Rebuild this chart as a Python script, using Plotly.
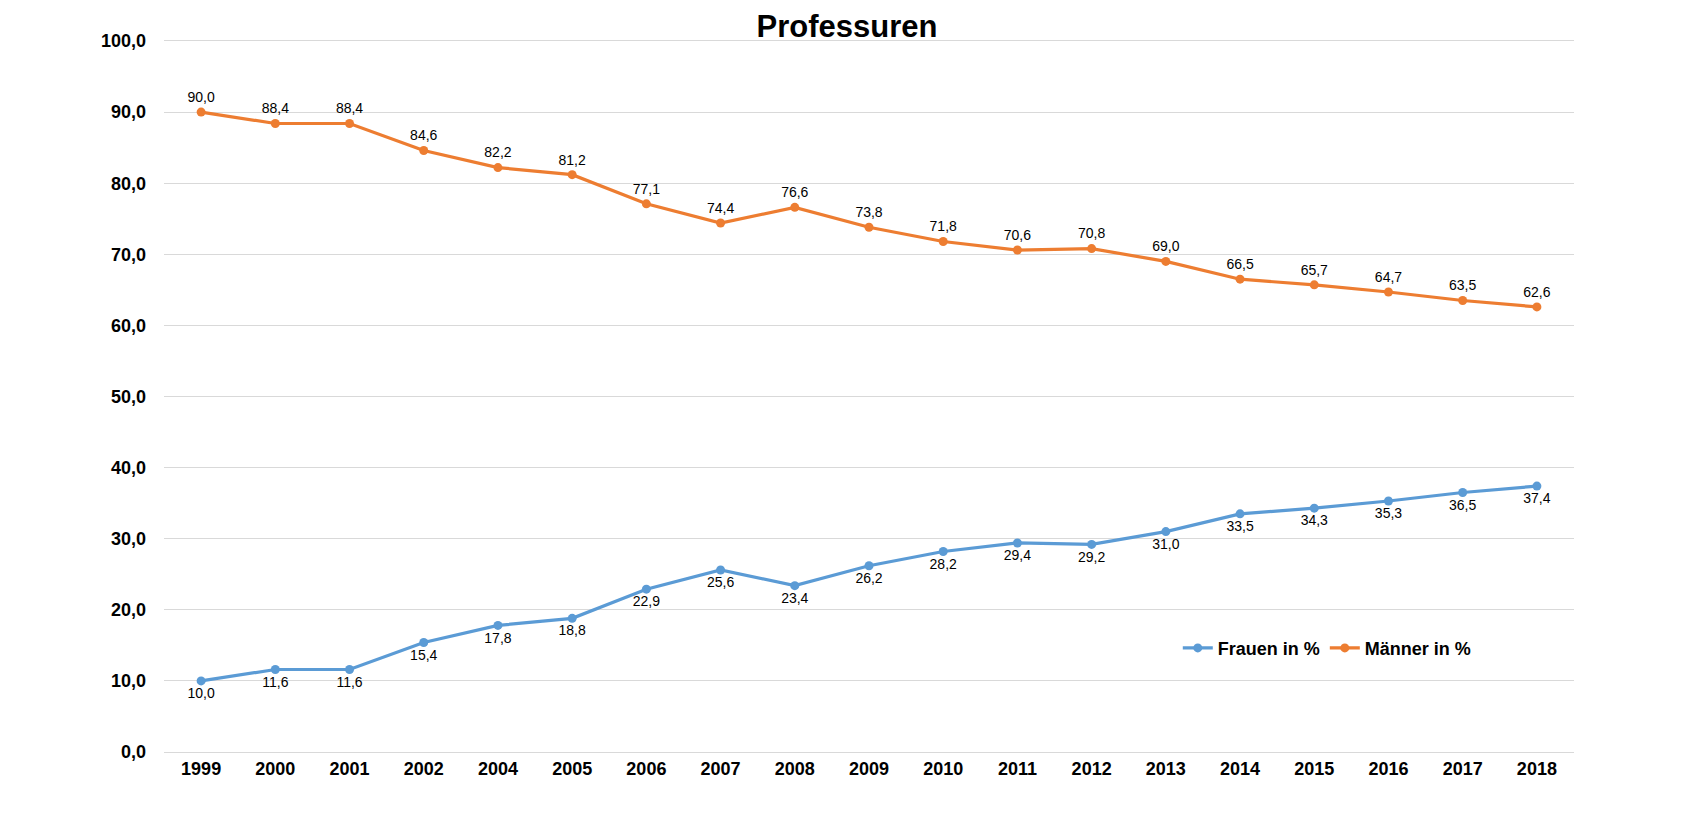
import plotly.graph_objects as go

years = ["1999", "2000", "2001", "2002", "2004", "2005", "2006", "2007", "2008", "2009",
         "2010", "2011", "2012", "2013", "2014", "2015", "2016", "2017", "2018"]
frauen = [10.0, 11.6, 11.6, 15.4, 17.8, 18.8, 22.9, 25.6, 23.4, 26.2,
          28.2, 29.4, 29.2, 31.0, 33.5, 34.3, 35.3, 36.5, 37.4]
maenner = [90.0, 88.4, 88.4, 84.6, 82.2, 81.2, 77.1, 74.4, 76.6, 73.8,
           71.8, 70.6, 70.8, 69.0, 66.5, 65.7, 64.7, 63.5, 62.6]
y_ticks = [0, 10, 20, 30, 40, 50, 60, 70, 80, 90, 100]

FONT = "Liberation Sans, Arial, sans-serif"
BLUE = "#5B9BD5"
ORANGE = "#ED7D31"
GRID = "#D9D9D9"

fig = go.Figure()
fig.add_trace(go.Scatter(
    x=years, y=frauen, name="Frauen in %", mode="lines+markers+text",
    line=dict(color=BLUE, width=3.2), marker=dict(color=BLUE, size=9),
    texttemplate="%{y:.1f}", textposition="bottom center",
    textfont=dict(family=FONT, size=14, color="#000000"),
    cliponaxis=False,
))
fig.add_trace(go.Scatter(
    x=years, y=maenner, name="Männer in %", mode="lines+markers+text",
    line=dict(color=ORANGE, width=3.2), marker=dict(color=ORANGE, size=9),
    texttemplate="%{y:.1f}", textposition="top center",
    textfont=dict(family=FONT, size=14, color="#000000"),
    cliponaxis=False,
))

fig.update_layout(
    width=1683, height=814,
    paper_bgcolor="white", plot_bgcolor="white",
    separators=",.",
    margin=dict(l=156, r=117, t=33, b=70),
    font=dict(family=FONT, color="#000000"),
    title=dict(text="<b>Professuren</b>", x=839 / 1683, xanchor="center",
               y=1 - 18 / 814, yanchor="middle",
               font=dict(family=FONT, size=31, color="#000000")),
    showlegend=True,
    legend=dict(orientation="h", x=0.719, xanchor="left", y=0.146, yanchor="middle",
                font=dict(family=FONT, size=18, color="#000000", weight="bold"),
                bgcolor="rgba(0,0,0,0)", itemwidth=30, tracegroupgap=0),
)
fig.update_xaxes(
    type="category", range=[-0.5, len(years) - 0.5],
    showgrid=False, zeroline=False, ticks="",
    showline=True, mirror=True, linecolor=GRID, linewidth=1,
    tickfont=dict(family=FONT, size=18, color="#000000", weight="bold"),
)
fig.update_yaxes(
    range=[0, 100], tickvals=y_ticks, tickformat=".1f",
    showgrid=True, gridcolor=GRID, gridwidth=1,
    zeroline=False, showline=False, ticks="",
    ticklabelstandoff=17,
    tickfont=dict(family=FONT, size=18, color="#000000", weight="bold"),
)

fig.write_html("out.html")
